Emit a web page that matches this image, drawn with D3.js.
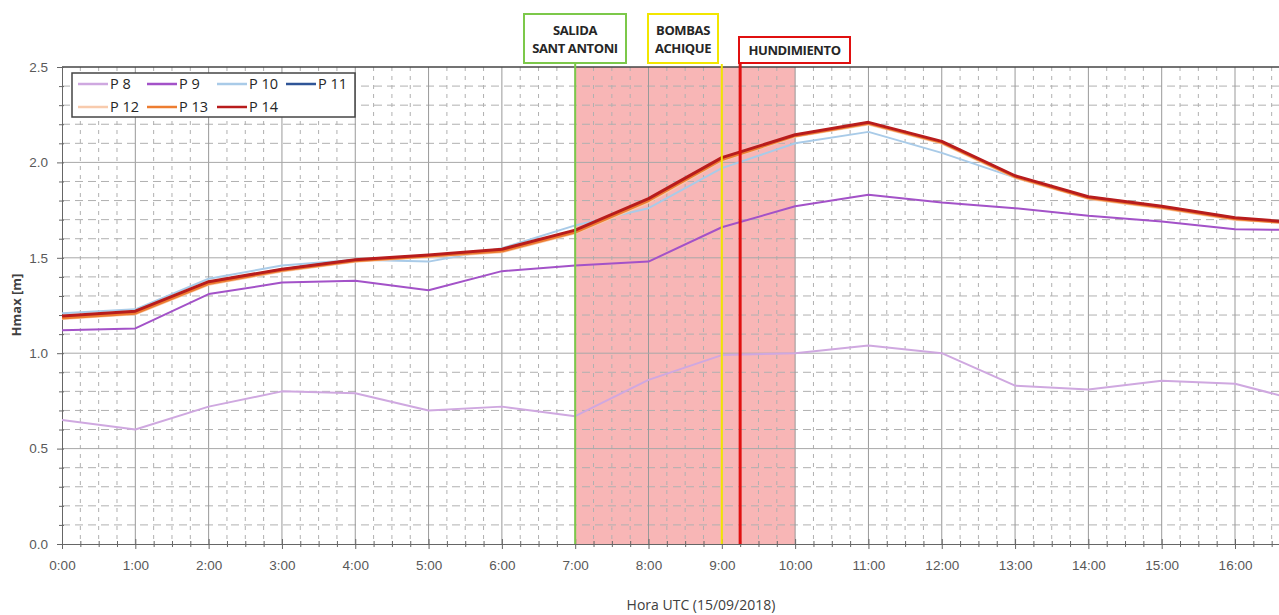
<!DOCTYPE html>
<html><head><meta charset="utf-8">
<script src="https://cdn.jsdelivr.net/npm/d3@7"></script>
<style>
html,body{margin:0;padding:0;background:#fff;}
svg{display:block;font-family:"Open Sans","Liberation Sans",sans-serif;}
</style></head>
<body><svg id="c" width="1279" height="615"></svg>
<script>
// ---- data ----
const hours = [0,1,2,3,4,5,6,7,8,9,10,11,12,13,14,15,16,17];
const xTickLabels = ["0:00","1:00","2:00","3:00","4:00","5:00","6:00","7:00","8:00","9:00","10:00","11:00","12:00","13:00","14:00","15:00","16:00"];
const yTickValues = [0.0,0.5,1.0,1.5,2.0,2.5];
const seriesNames = ["P 8","P 9","P 10","P 11","P 12","P 13","P 14"];
const seriesColors = ["#cfa8e0","#a352c8","#a9cbe8","#2f5597","#f8cbad","#ed7d31","#b81c1c"];
const seriesWidths = [2,2,2,2,2.5,3,3];
const p8  = [0.65,0.60,0.72,0.80,0.79,0.70,0.72,0.67,0.86,0.99,1.00,1.04,1.00,0.83,0.81,0.855,0.84,0.74];
const p9  = [1.12,1.13,1.31,1.37,1.38,1.33,1.43,1.46,1.48,1.66,1.77,1.83,1.79,1.76,1.72,1.69,1.65,1.645];
const p10 = [1.21,1.23,1.39,1.46,1.49,1.48,1.55,1.67,1.76,1.97,2.10,2.16,2.05,1.92,1.82,1.77,1.71,1.68];
const p11 = [1.19,1.215,1.37,1.44,1.49,1.51,1.54,1.64,1.80,2.02,2.14,2.205,2.105,1.925,1.815,1.765,1.705,1.68];
const p12 = [1.18,1.205,1.36,1.43,1.48,1.505,1.53,1.63,1.79,2.01,2.135,2.20,2.10,1.92,1.81,1.76,1.70,1.675];
const p13 = [1.185,1.21,1.365,1.435,1.485,1.51,1.535,1.635,1.80,2.015,2.14,2.205,2.105,1.925,1.815,1.765,1.705,1.675];
const p14 = [1.195,1.22,1.375,1.44,1.49,1.515,1.545,1.645,1.81,2.025,2.145,2.21,2.11,1.93,1.82,1.77,1.71,1.68];
const seriesValues = [p8,p9,p10,p11,p12,p13,p14];
const shadeRange = [7,10];
const events = [
  {t:7, label:["SALIDA","SANT ANTONI"], color:"#7cc84a"},
  {t:9, label:["BOMBAS","ACHIQUE"], color:"#f2e600"},
  {t:9.25, label:["HUNDIMIENTO"], color:"#e01010"}
];

// ---- layout ----
const svg = d3.select("#c");
const L = 62, R = 1279, T = 67, B = 544;
const x = d3.scaleLinear().domain([0,16.6]).range([L,R]);
const y = d3.scaleLinear().domain([0,2.5]).range([B,T]);

svg.append("defs").append("clipPath").attr("id","clip")
  .append("rect").attr("x",L).attr("y",T-5).attr("width",R-L).attr("height",B-T+10);

// shading
svg.append("rect").attr("x",x(shadeRange[0])).attr("y",T).attr("width",x(shadeRange[1])-x(shadeRange[0])).attr("height",B-T)
  .attr("fill","#f7a9a9").attr("opacity",0.85);

// minor grid
const g = svg.append("g");
const minorX = d3.range(0,16.6,0.25).filter(v=>Math.abs(v-Math.round(v))>1e-6);
g.selectAll(".mx").data(minorX).enter().append("line")
  .attr("x1",d=>x(d)).attr("x2",d=>x(d)).attr("y1",T).attr("y2",B)
  .attr("stroke","#b0b0b0").attr("stroke-width",1).attr("stroke-dasharray","4,5");
const minorY = d3.range(0.1,2.5,0.1).filter(v=>Math.abs(v*2-Math.round(v*2))>1e-6);
g.selectAll(".my").data(minorY).enter().append("line")
  .attr("x1",L).attr("x2",R).attr("y1",d=>y(d)).attr("y2",d=>y(d))
  .attr("stroke","#b0b0b0").attr("stroke-width",1).attr("stroke-dasharray","8,5");
// major grid
g.selectAll(".Mx").data(d3.range(1,17)).enter().append("line")
  .attr("x1",d=>x(d)).attr("x2",d=>x(d)).attr("y1",T).attr("y2",B)
  .attr("stroke","#999").attr("stroke-width",1);
g.selectAll(".My").data(yTickValues.slice(1,-1)).enter().append("line")
  .attr("x1",L).attr("x2",R).attr("y1",d=>y(d)).attr("y2",d=>y(d))
  .attr("stroke","#a8a8a8").attr("stroke-width",1);
// top border
svg.append("line").attr("x1",L).attr("x2",R).attr("y1",T).attr("y2",T).attr("stroke","#444").attr("stroke-width",1.5);

// axes
const xAxis = d3.axisBottom(x).tickValues(d3.range(0,17)).tickFormat((d,i)=>xTickLabels[i]).tickSize(5).tickSizeOuter(0);
const xa = svg.append("g").attr("transform",`translate(0,${B})`).call(xAxis);
xa.select(".domain").attr("stroke","#666");
xa.selectAll(".tick line").attr("stroke","#666").attr("y1",-5);
xa.selectAll("text").attr("fill","#595959").attr("font-size",13.5).attr("dy","1.35em");
const xMinor = d3.axisBottom(x).tickValues(minorX).tickFormat("").tickSize(3).tickSizeOuter(0);
const xm = svg.append("g").attr("transform",`translate(0,${B})`).call(xMinor);
xm.select(".domain").remove();
xm.selectAll(".tick line").attr("stroke","#666").attr("y1",-3);

const yAxis = d3.axisLeft(y).tickValues(yTickValues).tickFormat(d3.format(".1f")).tickSize(5).tickSizeOuter(0);
const ya = svg.append("g").attr("transform",`translate(${L},0)`).call(yAxis);
ya.select(".domain").attr("stroke","#666");
ya.selectAll(".tick line").attr("stroke","#666").attr("x1",2);
ya.selectAll("text").attr("fill","#595959").attr("font-size",13.5).attr("dx","-0.45em");
const yMinor = d3.axisLeft(y).tickValues(minorY).tickFormat("").tickSize(3).tickSizeOuter(0);
const ym = svg.append("g").attr("transform",`translate(${L},0)`).call(yMinor);
ym.select(".domain").remove();
ym.selectAll(".tick line").attr("stroke","#666").attr("x1",2);

// axis titles
svg.append("text").attr("x",701).attr("y",610).attr("text-anchor","middle")
  .attr("font-size",14).attr("fill","#404040").text("Hora UTC (15/09/2018)");
svg.append("text").attr("transform","translate(21,305) rotate(-90)").attr("text-anchor","middle")
  .attr("font-size",13).attr("font-weight","bold").attr("fill","#404040").text("Hmax [m]");

// lines
const line = d3.line().x((d,i)=>x(hours[i])).y(d=>y(d));
const lg = svg.append("g").attr("clip-path","url(#clip)");
seriesValues.forEach((vals,k)=>{
  lg.append("path").datum(vals).attr("d",line).attr("fill","none")
    .attr("stroke",seriesColors[k]).attr("stroke-width",seriesWidths[k]).attr("stroke-linejoin","round");
});

// event lines and labels
events.forEach(ev=>{
  svg.append("line").attr("x1",x(ev.t)).attr("x2",x(ev.t)).attr("y1",T-3).attr("y2",B)
    .attr("stroke",ev.color).attr("stroke-width",ev.t===9.25?3:2);
});
const boxes = [
  {ev:0, x0:524, x1:626, y0:14, y1:63},
  {ev:1, x0:648, x1:718, y0:14, y1:63},
  {ev:2, x0:739, x1:850, y0:37, y1:63}
];
boxes.forEach(b=>{
  const ev = events[b.ev];
  svg.append("rect").attr("x",b.x0).attr("y",b.y0).attr("width",b.x1-b.x0).attr("height",b.y1-b.y0)
    .attr("fill","#fff").attr("stroke",ev.color).attr("stroke-width",2);
  const cx = (b.x0+b.x1)/2;
  ev.label.forEach((s,i)=>{
    const n = ev.label.length;
    svg.append("text").attr("x",cx).attr("y",(b.y0+b.y1)/2 + (i-(n-1)/2)*18 + 5)
      .attr("text-anchor","middle").attr("font-size",13).attr("font-weight","bold")
      .attr("letter-spacing","-0.4").attr("fill","#262626").text(s);
  });
});

// legend
const leg = svg.append("g");
leg.append("rect").attr("x",72).attr("y",73).attr("width",283).attr("height",44)
  .attr("fill","#fff").attr("stroke","#444").attr("stroke-width",1.5);
const legPos = [[78,84],[147,84],[217,84],[286,84],[78,107],[147,107],[217,107]];
seriesNames.forEach((name,k)=>{
  const [lx,ly] = legPos[k];
  leg.append("line").attr("x1",lx).attr("x2",lx+30).attr("y1",ly).attr("y2",ly)
    .attr("stroke",seriesColors[k]).attr("stroke-width",2.5);
  leg.append("text").attr("x",lx+32).attr("y",ly+5).attr("font-size",14.5).attr("fill","#262626").text(name);
});
</script></body></html>
